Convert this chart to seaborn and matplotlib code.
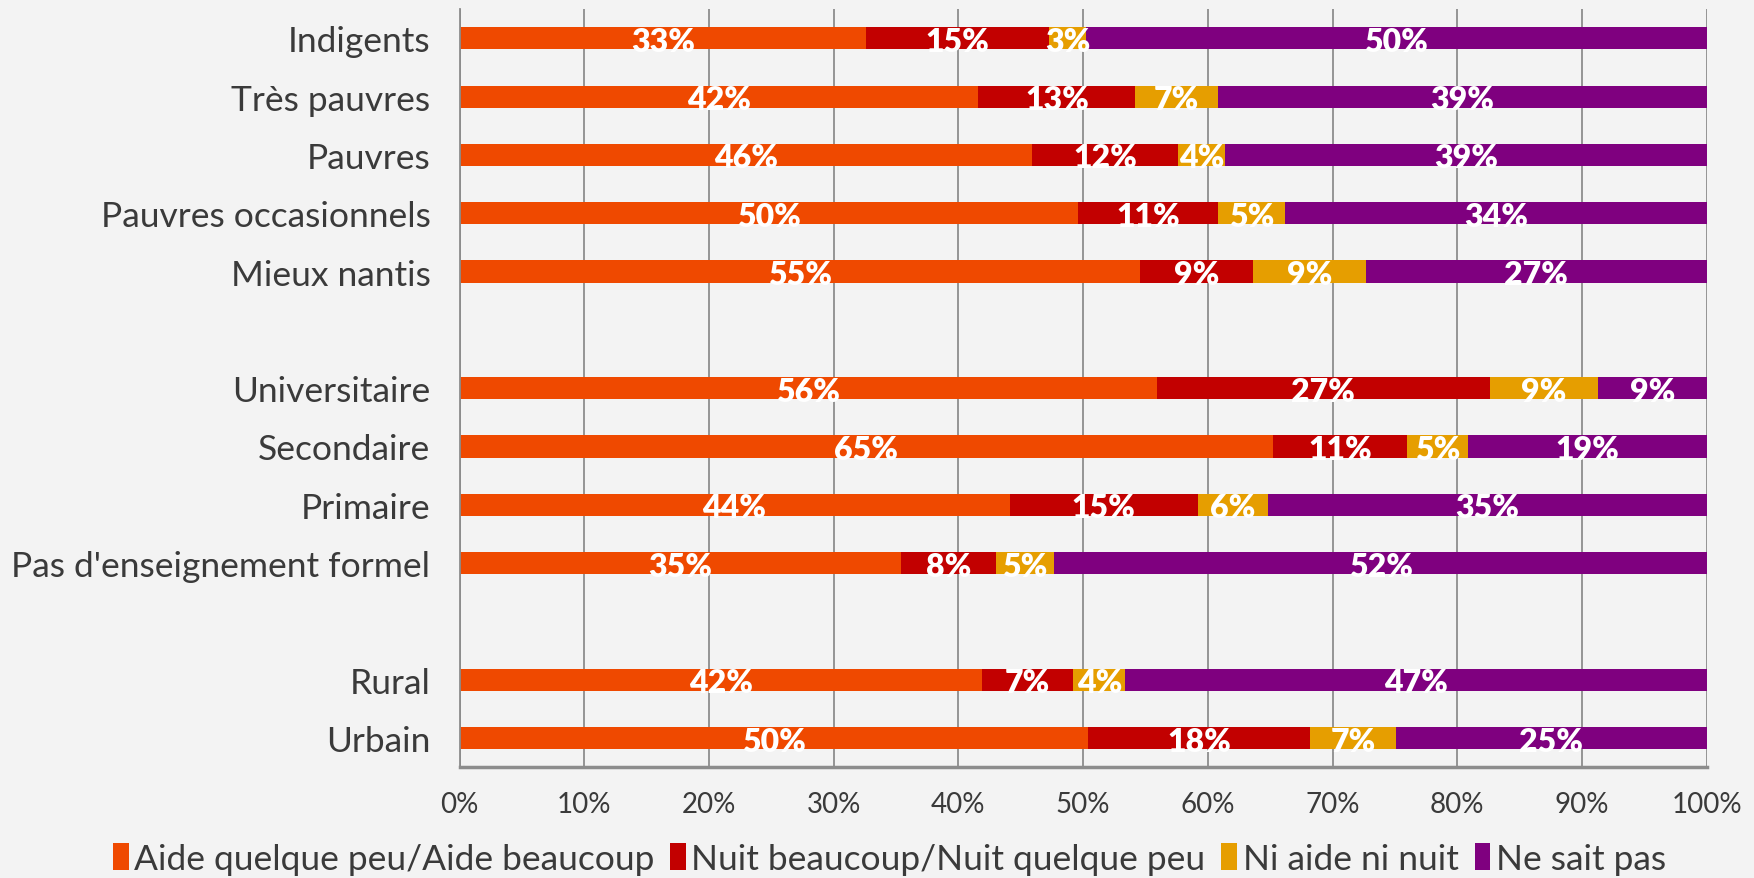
import matplotlib
matplotlib.use("Agg")
import matplotlib.pyplot as plt
from matplotlib import font_manager
from matplotlib.patches import Patch
from matplotlib.ticker import FixedLocator, MultipleLocator, PercentFormatter
import pandas as pd
import seaborn as sns


# categories, top to bottom; a blank row is left after each group
categories = [
    "Indigents",
    "Très pauvres",
    "Pauvres",
    "Pauvres occasionnels",
    "Mieux nantis",
    "Universitaire",
    "Secondaire",
    "Primaire",
    "Pas d'enseignement formel",
    "Rural",
    "Urbain",
]
gap_after = ["Mieux nantis", "Pas d'enseignement formel"]

series_names = [
    "Aide quelque peu/Aide beaucoup",
    "Nuit beaucoup/Nuit quelque peu",
    "Ni aide ni nuit",
    "Ne sait pas",
]
aide = [32.6, 41.6, 45.9, 49.6, 54.6, 55.9, 65.2, 44.1, 35.4, 41.9, 50.4]
nuit = [14.7, 12.6, 11.7, 11.2, 9.0, 26.7, 10.8, 15.1, 7.6, 7.3, 17.8]
ni_aide = [2.9, 6.6, 3.8, 5.4, 9.1, 8.7, 4.9, 5.6, 4.7, 4.2, 6.9]
ne_sait = [49.8, 39.2, 38.6, 33.8, 27.3, 8.7, 19.1, 35.2, 52.3, 46.6, 24.9]

colors = ["#EF4900", "#C20000", "#E69E00", "#7F007F"]
BG = "#F3F3F3"
GRID = "#8C8C8C"
TEXT = "#3A3A3A"

available = {f.name for f in font_manager.fontManager.ttflist}
main_font = "Lato" if "Lato" in available else "DejaVu Sans"


def build_order():
    order = []
    for cat in categories:
        order.append(cat)
        if cat in gap_after:
            order.append(f"_gap{len(order)}")
    return order


def main():
    sns.set_style("white", {"axes.facecolor": BG, "figure.facecolor": BG})
    plt.rcParams["font.family"] = [main_font, "DejaVu Sans"]

    df = pd.DataFrame({"categorie": categories})
    for name, values in zip(series_names, [aide, nuit, ni_aide, ne_sait]):
        df[name] = values
    cum = df[series_names].cumsum(axis=1)
    order = build_order()

    fig = plt.figure(figsize=(17.54, 8.79), dpi=100)
    ax = fig.add_axes([0.262, 0.126, 0.711, 0.8625])

    # stacked bars: draw the running totals, longest first
    for name, color in reversed(list(zip(series_names, colors))):
        sns.barplot(
            x=cum[name], y=df["categorie"], order=order, orient="h",
            color=color, saturation=1, width=0.38, errorbar=None,
            linewidth=0, ax=ax, zorder=2,
        )

    for i, cat in enumerate(categories):
        y = order.index(cat)
        left = 0
        for name in series_names:
            v = df.loc[i, name]
            ax.text(left + v / 2, y + 0.05, f"{v:.0f}%", ha="center", va="center",
                    color="white", fontsize=23, fontweight="heavy", zorder=3)
            left += v

    ax.set_xlim(0, 100)
    ax.set_ylim(len(order) - 0.5, -0.5)
    ax.xaxis.set_major_locator(MultipleLocator(10))
    ax.xaxis.set_major_formatter(PercentFormatter(xmax=100, decimals=0))
    ax.grid(axis="x", color=GRID, linewidth=1.3, zorder=0)
    ax.grid(axis="y", visible=False)
    ax.set_axisbelow(True)
    ax.set_xlabel("")
    ax.set_ylabel("")

    ax.set_yticks(range(len(order)))
    ax.set_yticklabels([c if not c.startswith("_gap") else "" for c in order])
    ax.yaxis.set_minor_locator(FixedLocator([k - 0.5 for k in range(len(order) + 1)]))
    ax.tick_params(axis="y", which="major", length=0, pad=21, labelsize=25.5, labelcolor=TEXT)
    ax.tick_params(axis="y", which="minor", length=6, width=1.3, color=GRID, direction="out")
    ax.tick_params(axis="x", length=6, width=1.3, color=GRID, direction="out",
                   pad=11, labelsize=20, labelcolor=TEXT)

    for side in ["top", "right"]:
        ax.spines[side].set_visible(False)
    ax.spines["left"].set_color(GRID)
    ax.spines["left"].set_linewidth(1.3)
    ax.spines["bottom"].set_color(GRID)
    ax.spines["bottom"].set_linewidth(2.5)

    handles = [Patch(facecolor=c, edgecolor="none", label=n) for n, c in zip(series_names, colors)]
    leg = fig.legend(
        handles=handles, loc="center", bbox_to_anchor=(0.507, 0.022), ncol=4,
        frameon=False, fontsize=25.5, handlelength=0.45, handleheight=0.8,
        handletextpad=0.15, columnspacing=0.45, borderaxespad=0,
    )
    for t in leg.get_texts():
        t.set_color(TEXT)

    fig.savefig("out.png", dpi=100, facecolor=BG)
    plt.close(fig)


if __name__ == "__main__":
    main()
